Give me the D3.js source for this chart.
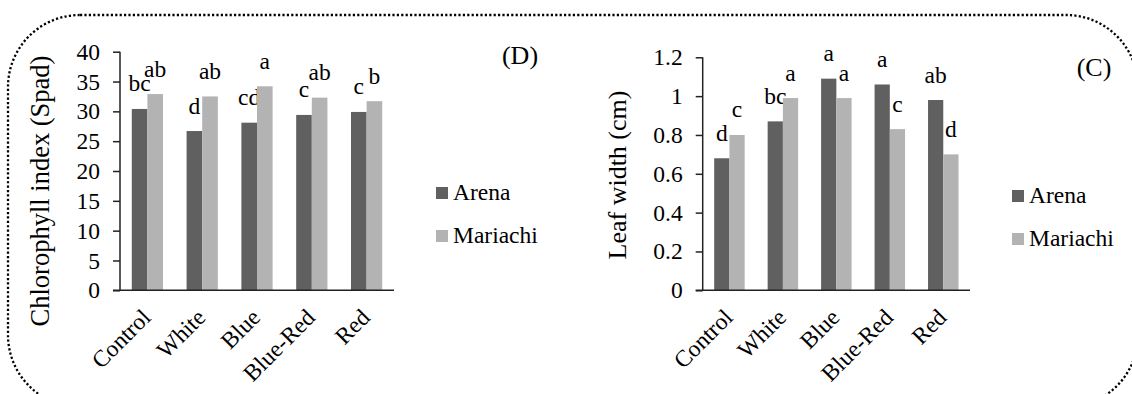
<!DOCTYPE html>
<html><head><meta charset="utf-8">
<script src="https://cdn.jsdelivr.net/npm/d3@7"></script>
</head><body style="margin:0;background:#fff">
<svg id="c" width="1132" height="394"></svg>
<script>
const categories = ["Control","White","Blue","Blue-Red","Red"];
const seriesNames = ["Arena","Mariachi"];
// Chart D: Chlorophyll index (Spad)
const chlArena    = [30.4, 26.7, 28.1, 29.4, 29.9];
const chlMariachi = [32.9, 32.5, 34.2, 32.3, 31.7];
const chlLettersArena    = ["bc","d","cd","c","c"];
const chlLettersMariachi = ["ab","ab","a","ab","b"];
const chlTicks = [0,5,10,15,20,25,30,35,40];
// Chart C: Leaf width (cm)
const lwArena    = [0.68, 0.87, 1.09, 1.06, 0.98];
const lwMariachi = [0.80, 0.99, 0.99, 0.83, 0.70];
const lwLettersArena    = ["d","bc","a","a","ab"];
const lwLettersMariachi = ["c","a","a","c","d"];
const lwTicks = [0,0.2,0.4,0.6,0.8,1,1.2];
const lwTickLabels = ["0","0.2","0.4","0.6","0.8","1","1.2"];

const FONT = "Liberation Serif";
const FS = 23.5;
const colors = {Arena:"#606060", Mariachi:"#b3b3b3"};
const svg = d3.select("#c");
function txt(sel, size){ return sel.style("font-family",FONT).style("font-size",size+"px").style("fill","#000"); }

// dotted rounded border
svg.append("rect").attr("x",8).attr("y",15).attr("width",1130).attr("height",392)
  .attr("rx",72).attr("ry",72).attr("fill","none").attr("stroke","#000")
  .attr("stroke-width",2.3).attr("stroke-dasharray","2.2 2.2");

function chart(o){
  const y = d3.scaleLinear().domain([0,o.max]).range([290.3,o.top]);
  const x = d3.scaleBand().domain(categories).range([o.left,o.right]).paddingInner(0.43).paddingOuter(0.215);
  const xs = d3.scaleBand().domain(seriesNames).range([0,x.bandwidth()]);
  const g = svg.append("g");
  const vals = {Arena:o.a, Mariachi:o.m};
  const lets = {Arena:o.la, Mariachi:o.lm};
  seriesNames.forEach(s=>{
    g.selectAll(null).data(categories).enter().append("rect")
      .attr("x",(c)=>x(c)+xs(s)).attr("width",xs.bandwidth())
      .attr("y",(c,i)=>y(vals[s][i])).attr("height",(c,i)=>y(0)-y(vals[s][i]))
      .attr("fill",colors[s]);
    txt(g.selectAll(null).data(categories).enter().append("text")
      .attr("x",(c)=>x(c)+xs(s)+xs.bandwidth()/2).attr("y",(c,i)=>y(vals[s][i])-17.5)
      .attr("text-anchor","middle").text((c,i)=>lets[s][i]), FS);
  });
  // y axis
  const ya = d3.axisLeft(y).tickValues(o.ticks).tickSize(7).tickPadding(13).tickFormat((d,i)=>o.tickLabels[i]);
  const yg = g.append("g").attr("transform",`translate(${o.left},0)`).call(ya);
  yg.select(".domain").attr("d",`M0,${o.top}V${y(0)}`).attr("stroke","#222").attr("stroke-width",1.5);
  yg.selectAll(".tick line").attr("stroke","#222").attr("stroke-width",1.5);
  txt(yg.selectAll(".tick text"), FS);
  // x baseline
  g.append("line").attr("x1",o.left-7).attr("x2",o.right).attr("y1",y(0)).attr("y2",y(0))
    .attr("stroke","#222").attr("stroke-width",1.5);
  // x labels
  txt(g.selectAll(null).data(categories).enter().append("text")
    .attr("transform",c=>`translate(${x(c)+x.bandwidth()/2-7},${y(0)+17}) rotate(-45)`)
    .attr("text-anchor","end").attr("dy","0.7em").text(c=>c), FS);
  // title
  txt(g.append("text").attr("transform",`translate(${o.titleX},${o.titleY}) rotate(-90)`)
    .attr("text-anchor","middle").text(o.title), o.titleSize);
  // panel tag
  txt(g.append("text").attr("x",o.tagX).attr("y",o.tagY).attr("text-anchor","middle").text(o.tag), 26);
  // legend
  seriesNames.forEach((s,i)=>{
    g.append("rect").attr("x",o.legX).attr("y",o.legY+i*43-13).attr("width",12).attr("height",12).attr("fill",colors[s]);
    txt(g.append("text").attr("x",o.legX+17).attr("y",o.legY+i*43).text(s), FS);
  });
}

chart({left:120,right:394,top:51.7,max:40,a:chlArena,m:chlMariachi,la:chlLettersArena,lm:chlLettersMariachi,
  ticks:chlTicks,tickLabels:chlTicks.map(String),title:"Chlorophyll index (Spad)",titleX:49,titleY:191,titleSize:26.5,
  tag:"(D)",tagX:520,tagY:64,legX:436,legY:200});
chart({left:702.7,right:970,top:57.3,max:1.2,a:lwArena,m:lwMariachi,la:lwLettersArena,lm:lwLettersMariachi,
  ticks:lwTicks,tickLabels:lwTickLabels,title:"Leaf width (cm)",titleX:626,titleY:175,titleSize:26,
  tag:"(C)",tagX:1094,tagY:76,legX:1012,legY:203});
</script>
</body></html>
